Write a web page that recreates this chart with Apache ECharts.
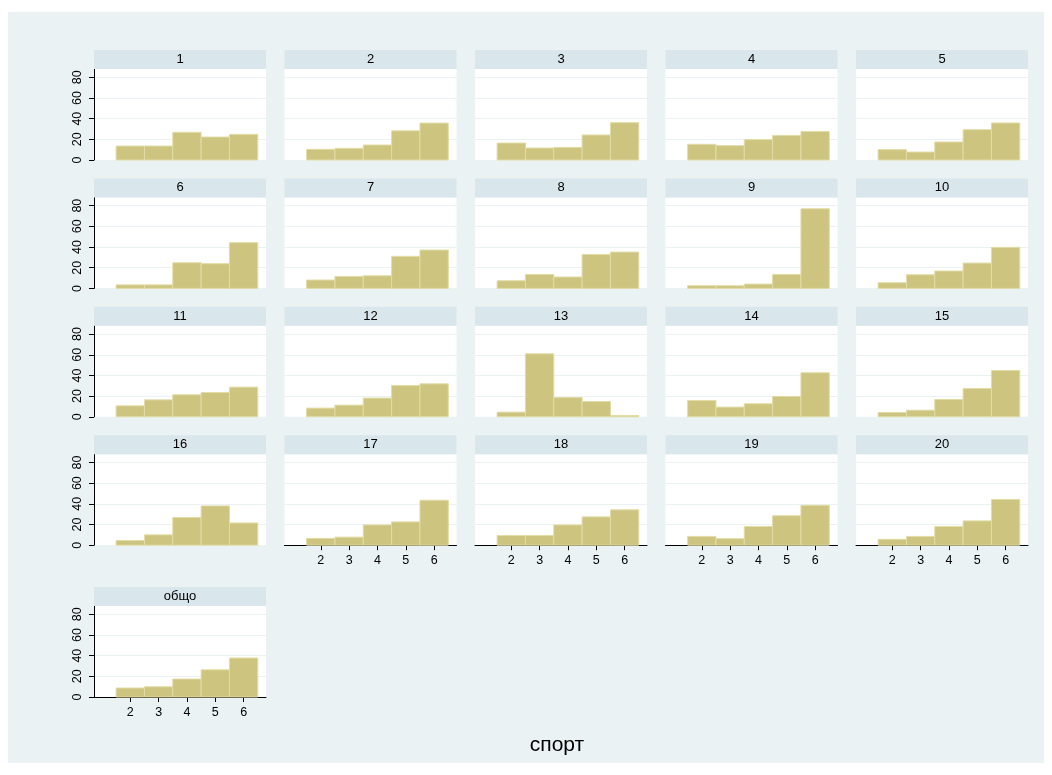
<!DOCTYPE html>
<html>
<head>
<meta charset="utf-8">
<script src="https://cdn.jsdelivr.net/npm/echarts@6/dist/echarts.min.js"></script>
<style>
html,body{margin:0;padding:0;background:#ffffff;}
#chart{width:1052px;height:775px;}
</style>
</head>
<body>
<div id="chart"></div>
<script>
// ---- data ----
const panelTitles = ['1','2','3','4','5','6','7','8','9','10','11','12','13','14','15','16','17','18','19','20','общо'];
const binCenters = [2, 3, 4, 5, 6];
const yTicks = [0, 20, 40, 60, 80];
const xTicks = [2, 3, 4, 5, 6];
const xAxisTitle = 'спорт';

const panel1  = [13.5, 13.5, 26.8, 22.2, 24.8];
const panel2  = [10.3, 11.3, 14.5, 28.2, 35.7];
const panel3  = [16.4, 11.6, 12.2, 24.2, 36.1];
const panel4  = [15.2, 13.9, 19.7, 23.8, 27.5];
const panel5  = [10.0, 7.7, 17.4, 29.3, 35.8];
const panel6  = [3.4, 3.4, 24.8, 23.9, 44.2];
const panel7  = [8.1, 11.6, 12.2, 31.0, 37.1];
const panel8  = [7.4, 13.5, 11.0, 32.9, 35.1];
const panel9  = [2.6, 2.6, 4.2, 13.5, 77.0];
const panel10 = [5.5, 13.2, 16.8, 24.5, 39.7];
const panel11 = [10.6, 16.4, 21.3, 23.5, 28.7];
const panel12 = [8.4, 11.3, 18.1, 30.3, 31.9];
const panel13 = [4.5, 60.9, 18.7, 14.8, 1.3];
const panel14 = [15.8, 9.4, 12.6, 19.7, 42.6];
const panel15 = [4.2, 6.4, 16.8, 27.4, 44.8];
const panel16 = [4.5, 10.0, 26.8, 38.0, 21.5];
const panel17 = [6.6, 7.8, 19.6, 22.5, 43.5];
const panel18 = [9.4, 9.4, 19.6, 27.4, 34.2];
const panel19 = [8.5, 6.3, 18.1, 28.5, 38.6];
const panel20 = [5.7, 8.5, 18.1, 23.5, 44.2];
const panelTotal = [8.7, 9.9, 17.4, 26.3, 37.7];

const panelValues = [panel1, panel2, panel3, panel4, panel5, panel6, panel7, panel8, panel9, panel10,
  panel11, panel12, panel13, panel14, panel15, panel16, panel17, panel18, panel19, panel20, panelTotal];

// ---- layout / style ----
const FONT = '"Liberation Sans", Arial, sans-serif';
const REGION_BG = '#EAF2F3';
const STRIP_BG = '#D9E6EB';
const BAR_FILL = '#CCC47F';
const BAR_EDGE = '#E2DCA6';
const binWidth = 1;
const colLeft0 = 94, colPitch = 190.5, plotW = 172;
const rowTops = [50, 178.4, 306.8, 435.2, 587];
const stripH = 19, plotH = 91;
const X_MIN = 0.72, X_MAX = 6.79, Y_MIN = 0, Y_MAX = 88;

const grids = [], xAxes = [], yAxes = [], series = [];
const graphics = [{
  type: 'rect', z: -100, silent: true,
  shape: {x: 8, y: 12, width: 1036, height: 751},
  style: {fill: REGION_BG}
}];

panelTitles.forEach((title, i) => {
  const r = Math.floor(i / 5), c = i % 5;
  const left = colLeft0 + c * colPitch;
  const top = rowTops[r] + stripH;
  const showX = (i === panelTitles.length - 1) || (r === 3 && c > 0);
  const showY = c === 0;
  grids.push({left: left, top: top, width: plotW, height: plotH, show: true,
    backgroundColor: '#ffffff', borderWidth: 0, containLabel: false});
  xAxes.push({
    type: 'value', gridIndex: i, min: X_MIN, max: X_MAX,
    axisLine: {show: showX, onZero: false, lineStyle: {color: '#000', width: 1}},
    axisTick: {show: showX, length: 5, customValues: xTicks, lineStyle: {color: '#000'}},
    axisLabel: {show: showX, customValues: xTicks, margin: 9, color: '#000', fontSize: 12.5, fontFamily: FONT},
    splitLine: {show: false}
  });
  yAxes.push({
    type: 'value', gridIndex: i, min: Y_MIN, max: Y_MAX, interval: 20,
    axisLine: {show: showY, lineStyle: {color: '#000', width: 1}},
    axisTick: {show: showY, length: 5, customValues: yTicks, lineStyle: {color: '#000'}},
    axisLabel: {show: showY, customValues: yTicks, rotate: 90, margin: 10, color: '#000', fontSize: 12.5,
      fontFamily: FONT},
    splitLine: {show: true, lineStyle: {color: REGION_BG, width: 1}}
  });
  series.push({
    type: 'custom', xAxisIndex: i, yAxisIndex: i,
    data: binCenters.map((x, k) => [x, panelValues[i][k]]),
    renderItem: function (params, api) {
      const x = api.value(0), y = api.value(1);
      const a = api.coord([x - binWidth / 2, y]);
      const b = api.coord([x + binWidth / 2, 0]);
      return {type: 'rect', shape: {x: a[0], y: a[1], width: b[0] - a[0], height: b[1] - a[1]},
        style: {fill: BAR_FILL, stroke: BAR_EDGE, lineWidth: 1}};
    }
  });
  graphics.push({
    type: 'rect', silent: true, z: 5,
    shape: {x: left, y: rowTops[r], width: plotW, height: stripH},
    style: {fill: STRIP_BG}
  });
  graphics.push({
    type: 'text', silent: true, z: 6,
    x: left + plotW / 2, y: rowTops[r] + stripH / 2,
    style: {text: title, fill: '#000', font: '13px ' + FONT, textAlign: 'center', textVerticalAlign: 'middle'}
  });
});

graphics.push({
  type: 'text', silent: true, z: 6,
  x: 557, y: 745,
  style: {text: xAxisTitle, fill: '#000', font: '21px ' + FONT, textAlign: 'center', textVerticalAlign: 'middle'}
});

const chart = echarts.init(document.getElementById('chart'), null, {renderer: 'canvas'});
chart.setOption({
  backgroundColor: '#ffffff',
  animation: false,
  grid: grids, xAxis: xAxes, yAxis: yAxes, series: series,
  graphic: graphics
});
</script>
</body>
</html>
